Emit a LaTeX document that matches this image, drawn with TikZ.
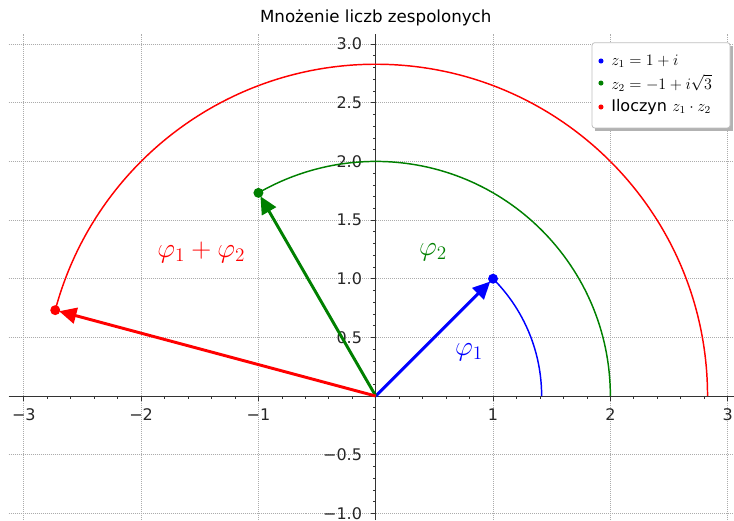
\documentclass[tikz,border=0pt]{standalone}
\usepackage[no-math]{fontspec}
\newfontfamily\djv{DejaVu Sans}
\usetikzlibrary{arrows.meta}
\definecolor{mplgreen}{rgb}{0,0.5,0}
\begin{document}
\begin{tikzpicture}[x=88pt,y=88pt,
  gridline/.style={gray!65, densely dotted, line width=0.5pt},
  axisline/.style={black!80, line width=0.75pt},
  minortick/.style={black!80, line width=0.5pt},
  ticklabel/.style={font=\djv\fontsize{12}{14}\selectfont, text=black!85, inner sep=0pt},
  arcline/.style={line width=1.1pt},
  vec/.style={line width=2.2pt, -{Triangle[length=13pt,width=12pt]}, shorten >=3pt},
  enddot/.style={circle, fill, inner sep=0pt, minimum size=7.5pt},
  anglelabel/.style={font=\fontsize{20}{24}\selectfont},
  legdot/.style={circle, fill, inner sep=0pt, minimum size=3.8pt},
  legtext/.style={anchor=west, inner sep=0pt, font=\fontsize{12}{14}\selectfont},
]
\useasboundingbox (-3.203,-1.057) rectangle (3.054,3.376);
% grid
\foreach \x in {-3,...,3} \draw[gridline] (\x,-1.057) -- (\x,3.09);
\foreach \y in {-1,-0.5,0.5,1,1.5,2,2.5,3} \draw[gridline] (-3.13,\y) -- (3.054,\y);
% axes
\coordinate (xa) at (-3.13,0);
\coordinate (xb) at (3.054,0);
\coordinate (ya) at (0,-1.057);
\coordinate (yb) at (0,3.09);
\draw[axisline] (xa) -- (xb);
\draw[axisline] (ya) -- (yb);
\foreach \i in {-15,...,15} \draw[minortick] (\i*0.2,0) -- ++(0,-2pt);
\foreach \i in {-10,...,30} \draw[minortick] (0,\i*0.1) -- ++(-2pt,0);
\foreach \x in {-3,...,3} \draw[axisline] (\x,0) -- ++(0,-3.5pt);
\foreach \y in {-1,-0.5,...,3} \draw[axisline] (0,\y) -- ++(-3.5pt,0);
% tick labels
\foreach \x/\l/\n in {-3/−3/a,-2/−2/b,-1/−1/c,1/1/d,2/2/e,3/3/f}
  \node[ticklabel] (xl\n) at (\x,-0.162) {\l};
\foreach \y/\l/\n in {3/3.0/a,2.5/2.5/b,2/2.0/c,1.5/1.5/d,1/1.0/e,0.5/0.5/f,-0.5/−0.5/g,-1/−1.0/h}
  \node[ticklabel, anchor=east] (yl\n) at (-0.115,\y) {\l};
% title
\node[font=\djv\fontsize{12.5}{15}\selectfont, inner sep=0pt] (title) at (0,3.222) {Mnożenie liczb zespolonych};
% arcs
\draw[arcline, blue] (1.41421,0) arc[start angle=0, end angle=45, radius=1.41421];
\draw[arcline, mplgreen] (2,0) arc[start angle=0, end angle=120, radius=2];
\draw[arcline, red] (2.82843,0) arc[start angle=0, end angle=165, radius=2.82843];
% vectors
\coordinate (O) at (0,0);
\coordinate (P1) at (1,1);
\coordinate (P2) at (-1,1.73205);
\coordinate (P3) at (-2.73205,0.73205);
\draw[vec, blue] (O) -- (P1);
\draw[vec, mplgreen] (O) -- (P2);
\draw[vec, red] (O) -- (P3);
\node[enddot, blue] (d1) at (P1) {};
\node[enddot, mplgreen] (d2) at (P2) {};
\node[enddot, red] (d3) at (P3) {};
% angle labels
\node[anglelabel, blue] (phi1) at (0.795,0.375) {$\varphi_1$};
\node[anglelabel, mplgreen] (phi2) at (0.488,1.228) {$\varphi_2$};
\node[anglelabel, red] (phi12) at (-1.487,1.228) {$\varphi_1+\varphi_2$};
% legend
\fill[black!30] (1.844+0.025,2.285-0.025) rectangle (3.020+0.025,3.012-0.025);
\draw[black!25, fill=white, rounded corners=2pt, line width=0.6pt] (1.844,2.285) rectangle (3.020,3.012);
\node[legdot, blue] (ld1) at (1.92,2.856) {};
\node[legdot, mplgreen] (ld2) at (1.92,2.668) {};
\node[legdot, red] (ld3) at (1.92,2.464) {};
\node[legtext] (lt1) at (2.006,2.856) {$z_1=1+i$};
\node[legtext] (lt2) at (2.006,2.668) {$z_2=-1+i\sqrt{3}$};
\node[legtext] (lt3) at (2.006,2.464) {{\djv Iloczyn} $z_1\cdot z_2$};
\end{tikzpicture}
\end{document}
